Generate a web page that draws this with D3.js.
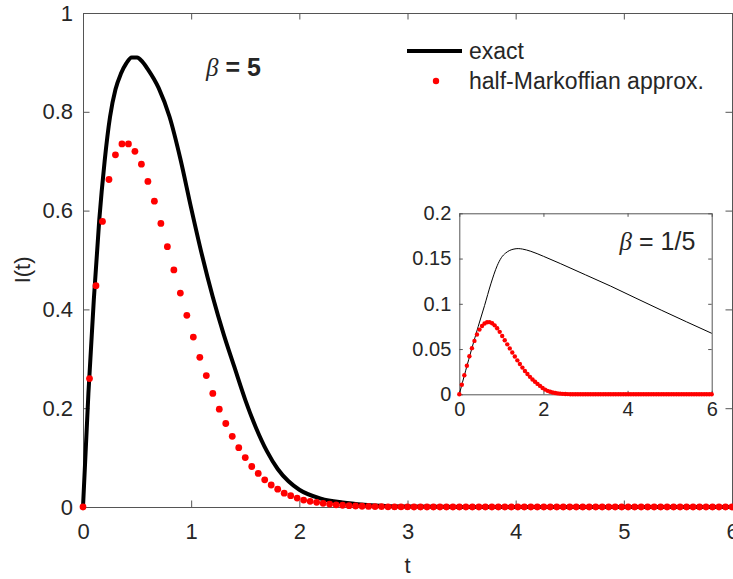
<!DOCTYPE html>
<html>
<head>
<meta charset="utf-8">
<script src="https://cdn.jsdelivr.net/npm/d3@7"></script>
<style>
  body { margin: 0; background: #fff; }
  text { font-family: "Liberation Sans", Arial, sans-serif; fill: #262626; }
</style>
</head>
<body>
<div id="my_dataviz"></div>
<script>
// sample step of the red markers (both panels)
var dt = 0.06;

// main panel, beta = 5 : half-Markoffian approx. (red dots)
var approxMain = [0, 0.26, 0.448, 0.578, 0.663, 0.713, 0.735, 0.735, 0.72, 0.694,
  0.659, 0.619, 0.574, 0.527, 0.48, 0.433, 0.388, 0.344, 0.303, 0.266,
  0.23, 0.198, 0.169, 0.143, 0.12, 0.1, 0.082, 0.068, 0.055, 0.0445,
  0.036, 0.028, 0.023, 0.018, 0.014, 0.0115, 0.0095, 0.0075, 0.006, 0.0045,
  0.0035, 0.0027, 0.002, 0.0015, 0.0011, 0.0008, 0.0006, 0.0004, 0.0003, 0.0002,
  0.0001, 0, 0, 0, 0, 0, 0, 0, 0, 0,
  0, 0, 0, 0, 0, 0, 0, 0, 0, 0,
  0, 0, 0, 0, 0, 0, 0, 0, 0, 0,
  0, 0, 0, 0, 0, 0, 0, 0, 0, 0,
  0, 0, 0, 0, 0, 0, 0, 0, 0, 0, 0];

// main panel exact curve (t, I)
var exactMainT = [0, 0.05, 0.1, 0.15, 0.2, 0.25, 0.3, 0.35, 0.4, 0.45, 0.5, 0.55, 0.6, 0.7, 0.8,
  0.9, 1.0, 1.1, 1.2, 1.3, 1.4, 1.5, 1.6, 1.7, 1.8, 1.9, 2.0, 2.2, 2.4, 2.6, 2.8, 3.0, 3.5, 4, 6];
var exactMainI = [0, 0.23, 0.42, 0.58, 0.70, 0.79, 0.845, 0.877, 0.898, 0.91, 0.91, 0.901, 0.886, 0.848, 0.79,
  0.705, 0.605, 0.51, 0.425, 0.35, 0.283, 0.217, 0.16, 0.113, 0.077, 0.052, 0.035, 0.017, 0.009, 0.0045, 0.002, 0.001, 0.0002, 0, 0];

// inset, beta = 1/5
var approxInset = [0, 0.0105, 0.021, 0.0315, 0.042, 0.051, 0.059, 0.066, 0.0715, 0.0755,
  0.0783, 0.0796, 0.0797, 0.0785, 0.0762, 0.073, 0.069, 0.0645, 0.0598, 0.0552,
  0.0507, 0.0462, 0.0418, 0.0375, 0.0334, 0.0295, 0.0258, 0.0224, 0.0193, 0.0164,
  0.0138, 0.0115, 0.0093, 0.007, 0.0052, 0.0038, 0.0028, 0.002, 0.0014, 0.001,
  0.0007, 0.0005, 0.0003, 0.0002, 0.0001, 0, 0, 0, 0, 0,
  0, 0, 0, 0, 0, 0, 0, 0, 0, 0,
  0, 0, 0, 0, 0, 0, 0, 0, 0, 0,
  0, 0, 0, 0, 0, 0, 0, 0, 0, 0,
  0, 0, 0, 0, 0, 0, 0, 0, 0, 0,
  0, 0, 0, 0, 0, 0, 0, 0, 0, 0, 0];

var exactInsetT = [0, 0.15, 0.3, 0.45, 0.6, 0.75, 0.9, 1.0, 1.1, 1.2, 1.3, 1.4, 1.5, 1.7, 2.0, 2.4, 3.0, 3.6, 4.2, 4.8, 5.4, 6.0];
var exactInsetI = [0, 0.026, 0.051, 0.075, 0.098, 0.122, 0.142, 0.151, 0.156, 0.159, 0.1605, 0.161, 0.1605, 0.158, 0.1525, 0.1445, 0.132, 0.1195, 0.1062, 0.093, 0.0801, 0.0674];

// tick labels
var mainXTicks = [0, 1, 2, 3, 4, 5, 6];
var mainYTicks = [0, 0.2, 0.4, 0.6, 0.8, 1];
var insetXTicks = [0, 2, 4, 6];
var insetYTicks = [0, 0.05, 0.1, 0.15, 0.2];

var legendLabels = ["exact", "half-Markoffian approx."];

// set the dimensions and margins of the graph
var margin = {top: 13, right: 1, bottom: 72, left: 83},
    width = 733 - margin.left - margin.right,
    height = 579 - margin.top - margin.bottom;

var svg = d3.select("#my_dataviz")
  .append("svg")
    .attr("width", 733)
    .attr("height", 579);

var g = svg.append("g")
    .attr("transform", "translate(" + margin.left + "," + margin.top + ")");

var x = d3.scaleLinear().domain([0, 6]).range([0, width]);
var y = d3.scaleLinear().domain([0, 1]).range([height, 0]);

function styleAxis(sel) {
  sel.select(".domain").attr("stroke", "#555").attr("stroke-width", 1);
  sel.selectAll(".tick line").attr("stroke", "#555").attr("stroke-width", 1);
}

// axes, ticks pointing inside, box on all sides
g.append("g")
  .attr("transform", "translate(0," + height + ")")
  .call(d3.axisBottom(x).tickValues(mainXTicks).tickFormat(d3.format("d"))
    .tickSizeInner(-6.5).tickSizeOuter(0).tickPadding(16))
  .call(styleAxis)
  .selectAll("text").style("font-size", "22px").attr("fill", "#262626");

g.append("g")
  .call(d3.axisTop(x).tickValues(mainXTicks).tickFormat("")
    .tickSizeInner(-6.5).tickSizeOuter(0))
  .call(styleAxis);

g.append("g")
  .call(d3.axisLeft(y).tickValues(mainYTicks).tickFormat(d3.format("~g"))
    .tickSizeInner(-6.5).tickSizeOuter(0).tickPadding(10))
  .call(styleAxis)
  .selectAll("text").style("font-size", "22px").attr("fill", "#262626");

g.append("g")
  .attr("transform", "translate(" + width + ",0)")
  .call(d3.axisRight(y).tickValues(mainYTicks).tickFormat("")
    .tickSizeInner(-6.5).tickSizeOuter(0))
  .call(styleAxis);

// axis labels
svg.append("text")
  .attr("x", margin.left + x(3))
  .attr("y", 573)
  .attr("text-anchor", "middle")
  .style("font-size", "22px")
  .text("t");

svg.append("text")
  .attr("transform", "translate(30," + (margin.top + y(0.48)) + ")rotate(-90)")
  .attr("text-anchor", "middle")
  .style("font-size", "22px")
  .text("I(t)");

// exact curve
var lineMain = d3.line()
  .x(function(d) { return x(d[0]); })
  .y(function(d) { return y(d[1]); })
  .curve(d3.curveMonotoneX);

g.append("path")
  .datum(exactMainT.map(function(t, i) { return [t, exactMainI[i]]; }))
  .attr("fill", "none")
  .attr("stroke", "#000")
  .attr("stroke-width", 4)
  .attr("stroke-linejoin", "round")
  .attr("d", lineMain);

// red markers
g.selectAll("circle.main")
  .data(approxMain)
  .enter()
  .append("circle")
    .attr("class", "main")
    .attr("cx", function(d, i) { return x(i * dt); })
    .attr("cy", function(d) { return y(d); })
    .attr("r", 3.4)
    .attr("fill", "#ff0000");

// beta label
var bl = g.append("text")
  .attr("x", 123)
  .attr("y", 63)
  .style("font-size", "25px")
  .style("font-weight", "bold");
bl.append("tspan").style("font-family", "'Liberation Serif', serif").style("font-style", "italic").style("font-weight", "normal").text("\u03b2");
bl.append("tspan").text(" = 5");

// legend
var leg = svg.append("g");
leg.append("line")
  .attr("x1", 407).attr("x2", 462)
  .attr("y1", 51).attr("y2", 51)
  .attr("stroke", "#000").attr("stroke-width", 4);
leg.append("circle")
  .attr("cx", 436).attr("cy", 81).attr("r", 3.2).attr("fill", "#ff0000");
leg.selectAll("text.leg")
  .data(legendLabels)
  .enter()
  .append("text")
    .attr("class", "leg")
    .attr("x", 469)
    .attr("y", function(d, i) { return 59 + i * 30; })
    .style("font-size", "23px")
    .text(function(d) { return d; });

// ---------- inset ----------
var inset = {left: 459.3, top: 213.3, width: 252.4, height: 181};
var gi = svg.append("g")
  .attr("transform", "translate(" + inset.left + "," + inset.top + ")");

gi.append("rect")
  .attr("width", inset.width).attr("height", inset.height)
  .attr("fill", "#fff");

var xi = d3.scaleLinear().domain([0, 6]).range([0, inset.width]);
var yi = d3.scaleLinear().domain([0, 0.2]).range([inset.height, 0]);

gi.append("g")
  .attr("transform", "translate(0," + inset.height + ")")
  .call(d3.axisBottom(xi).tickValues(insetXTicks).tickFormat(d3.format("d"))
    .tickSizeInner(-3.5).tickSizeOuter(0).tickPadding(8))
  .call(styleAxis)
  .selectAll("text").style("font-size", "20px").attr("fill", "#262626");

gi.append("g")
  .call(d3.axisTop(xi).tickValues(insetXTicks).tickFormat("")
    .tickSizeInner(-3.5).tickSizeOuter(0))
  .call(styleAxis);

gi.append("g")
  .call(d3.axisLeft(yi).tickValues(insetYTicks).tickFormat(d3.format("~g"))
    .tickSizeInner(-3.5).tickSizeOuter(0).tickPadding(8))
  .call(styleAxis)
  .selectAll("text").style("font-size", "20px").attr("fill", "#262626");

gi.append("g")
  .attr("transform", "translate(" + inset.width + ",0)")
  .call(d3.axisRight(yi).tickValues(insetYTicks).tickFormat("")
    .tickSizeInner(-3.5).tickSizeOuter(0))
  .call(styleAxis);

var lineInset = d3.line()
  .x(function(d) { return xi(d[0]); })
  .y(function(d) { return yi(d[1]); })
  .curve(d3.curveMonotoneX);

gi.append("path")
  .datum(exactInsetT.map(function(t, i) { return [t, exactInsetI[i]]; }))
  .attr("fill", "none")
  .attr("stroke", "#000")
  .attr("stroke-width", 1)
  .attr("d", lineInset);

gi.selectAll("circle.ins")
  .data(approxInset)
  .enter()
  .append("circle")
    .attr("class", "ins")
    .attr("cx", function(d, i) { return xi(i * dt); })
    .attr("cy", function(d) { return yi(d); })
    .attr("r", 2.2)
    .attr("fill", "#ff0000");

var bi = gi.append("text")
  .attr("x", 236)
  .attr("y", 37)
  .attr("text-anchor", "end")
  .style("font-size", "25px");
bi.append("tspan").style("font-family", "'Liberation Serif', serif").style("font-style", "italic").text("\u03b2");
bi.append("tspan").text(" = 1/5");
</script>
</body>
</html>
